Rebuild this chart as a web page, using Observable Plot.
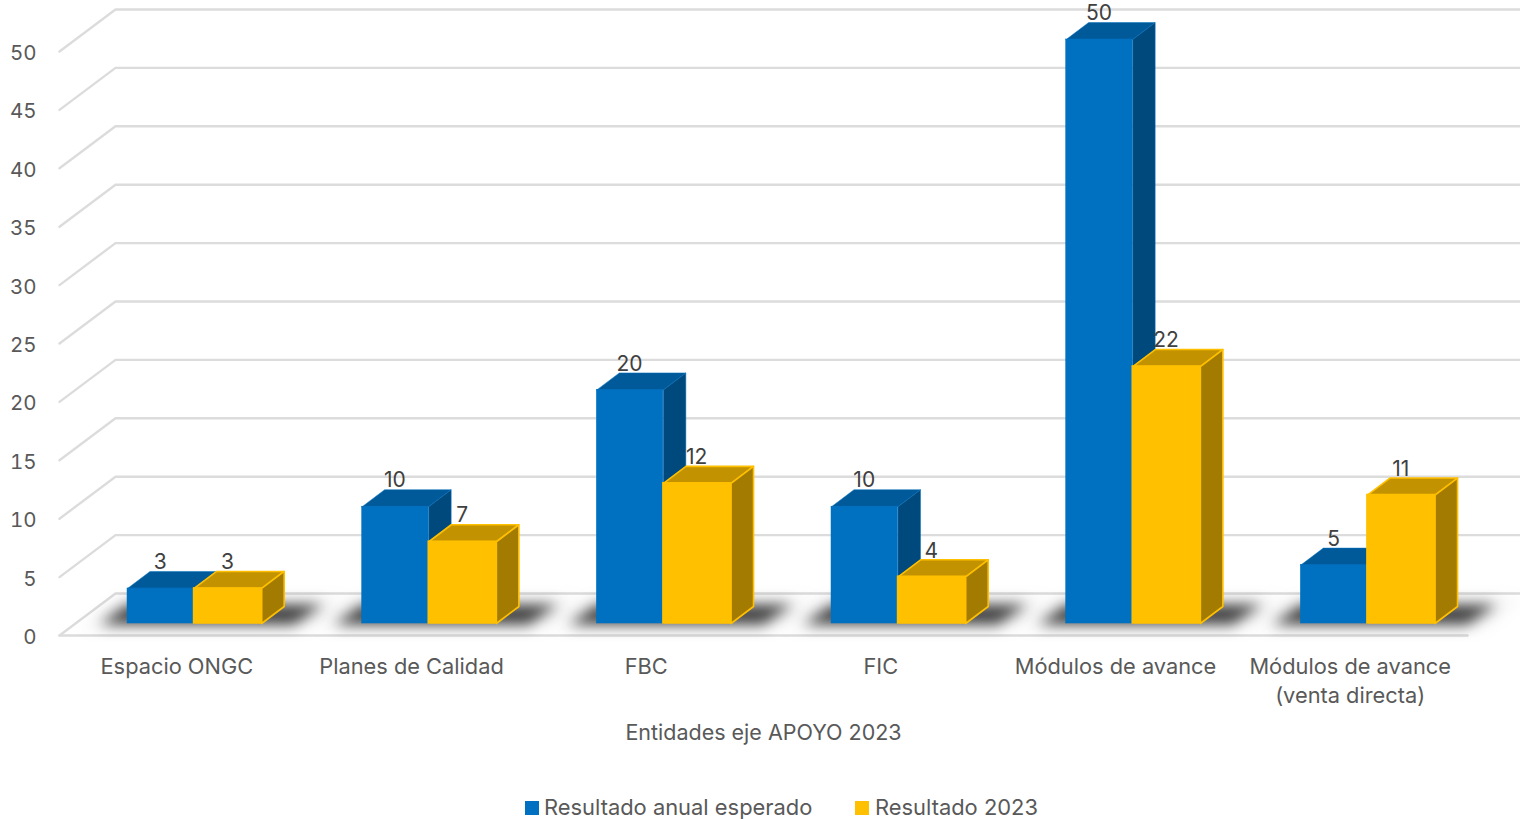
<!DOCTYPE html>
<html>
<head>
<meta charset="utf-8">
<script src="https://cdn.jsdelivr.net/npm/d3@7"></script>
<script src="https://cdn.jsdelivr.net/npm/@observablehq/plot@0.6"></script>
<style>
  html, body { margin: 0; padding: 0; background: #fff; overflow: hidden; }
  svg { display: block; }
  #legend { position: relative; height: 49px; font: 21.9px Inter, sans-serif; color: #595959; }
  #legend span { position: absolute; top: 23px; line-height: 28px; white-space: nowrap; }
  #legend i { position: absolute; top: 31px; width: 14px; height: 14px; }
</style>
</head>
<body>
<div id="chart"></div>
<div id="legend"></div>
<script>
const categories = ["Espacio ONGC", "Planes de Calidad", "FBC", "FIC", "Módulos de avance", "Módulos de avance\n(venta directa)"];
const expected = [3, 10, 20, 10, 50, 5];
const result2023 = [3, 7, 12, 4, 22, 11];
const seriesNames = ["Resultado anual esperado", "Resultado 2023"];
const yTicks = [0, 5, 10, 15, 20, 25, 30, 35, 40, 45, 50];
const xTitle = "Entidades eje APOYO 2023";

const font = "Inter, sans-serif";
const pxX = 1 / (1408 / 6), pxY = 50 / 584;
const grid = "#dcdcdc", labelColor = "#595959";
// wall depth, bar plane and bar depth in scale units
const wallX = 56 * pxX, wallY = 42 * pxY;
const planeY = 12 * pxY;
const depthX = 22.5 * pxX, depthY = 17 * pxY;
const barStart = 68 * pxX;
const barGeom = [{off: 0, w: 66.5 * pxX}, {off: 66.6 * pxX, w: 67.6 * pxX}];

const palette = [
  {front: "#0070c0", top: "#005a9a", side: "#00497d", stroke: "#0070c0", sw: 0.5},
  {front: "#ffc000", top: "#c29200", side: "#a27b00", stroke: "#ffc000", sw: 1.6}
];
const seriesValues = [expected, result2023];

const poly = (pts, o) => Plot.line([...pts, pts[0]], {x: d => d[0], y: d => d[1], curve: "linear", strokeLinejoin: "round", ...o});

const marks = [];
// gridlines
for (const k of yTicks) {
  marks.push(Plot.line([[0, k], [wallX, k + wallY], [6.3, k + wallY]], {x: d => d[0], y: d => d[1], stroke: grid, strokeWidth: 2.4}));
}
marks.push(Plot.line([[0, 0], [6, 0]], {x: d => d[0], y: d => d[1], stroke: grid, strokeWidth: 2.4}));

// floor shadows
categories.forEach((c, i) => {
  const xl = i + barStart, xr = xl + barGeom[1].off + barGeom[1].w;
  const b = planeY;
  marks.push(poly([[xl - 48 * pxX, b - 6 * pxY], [xl - 8 * pxX, b + 26 * pxY], [xr + 88 * pxX, b + 26 * pxY], [xr + 48 * pxX, b - 6 * pxY]],
    {fill: "#000", fillOpacity: 0.04, stroke: "none", imageFilter: "blur(8px)"}));
  marks.push(poly([[xl - 28 * pxX, b - 1 * pxY], [xl + 0 * pxX, b + 19 * pxY], [xr + 62 * pxX, b + 19 * pxY], [xr + 32 * pxX, b - 1 * pxY]],
    {fill: "#111", fillOpacity: 0.8, stroke: "none", imageFilter: "blur(7px)"}));
});

// bars
categories.forEach((c, i) => {
  seriesValues.forEach((vals, s) => {
    const v = vals[i], p = palette[s], g = barGeom[s];
    const x1 = i + barStart + g.off, x2 = x1 + g.w;
    const y0 = planeY, y1 = v + planeY;
    const o = {stroke: p.stroke, strokeWidth: p.sw};
    marks.push(poly([[x1, y1], [x1 + depthX, y1 + depthY], [x2 + depthX, y1 + depthY], [x2, y1]], {fill: p.top, ...o}));
    marks.push(poly([[x2, y0], [x2 + depthX, y0 + depthY], [x2 + depthX, y1 + depthY], [x2, y1]], {fill: p.side, ...o}));
    marks.push(Plot.rect([{x1, x2, y1: y0, y2: y1}], {x1: "x1", x2: "x2", y1: "y1", y2: "y2", fill: p.front, ...o, inset: 0}));
  });
});

// value labels
const labels = categories.flatMap((c, i) => seriesValues.map((vals, s) => ({
  x: i + barStart + barGeom[s].off + barGeom[s].w / 2 - 0.5 * pxX,
  y: vals[i] + planeY + depthY,
  t: String(vals[i])
})));
marks.push(Plot.text(labels, {x: "x", y: "y", text: "t", dy: -9, fontSize: 21, fill: "#404040", fontFamily: font}));

// axes
marks.push(Plot.axisY({ticks: yTicks, tickSize: 0, tickPadding: 23, label: null, dy: 2, fontSize: 20.5, fill: labelColor, fontFamily: font}));
marks.push(Plot.text(categories, {x: (d, i) => i + 0.5, y: () => 0, text: d => d, lineAnchor: "top", dy: 18, lineHeight: 1.33, fontSize: 21.8, fill: labelColor, fontFamily: font}));
marks.push(Plot.text([xTitle], {x: () => 3, y: () => 0, text: d => d, dy: 98, fontSize: 21.5, fill: labelColor, fontFamily: font}));

const chart = Plot.plot({
  width: 1520,
  height: 770,
  marginLeft: 59,
  marginRight: 53,
  marginTop: 51,
  marginBottom: 135,
  x: {type: "linear", domain: [0, 6], axis: null},
  y: {type: "linear", domain: [0, 50], axis: null},
  style: {background: "#fff", fontFamily: font, overflow: "hidden"},
  marks
});
document.getElementById("chart").append(chart);

const legend = document.getElementById("legend");
[[525, 544], [855, 875]].forEach(([a, b], s) => {
  const sw = document.createElement("i");
  sw.style.left = a + "px"; sw.style.background = palette[s].front;
  const t = document.createElement("span");
  t.style.left = b + "px"; t.textContent = seriesNames[s];
  legend.append(sw, t);
});
</script>
</body>
</html>
